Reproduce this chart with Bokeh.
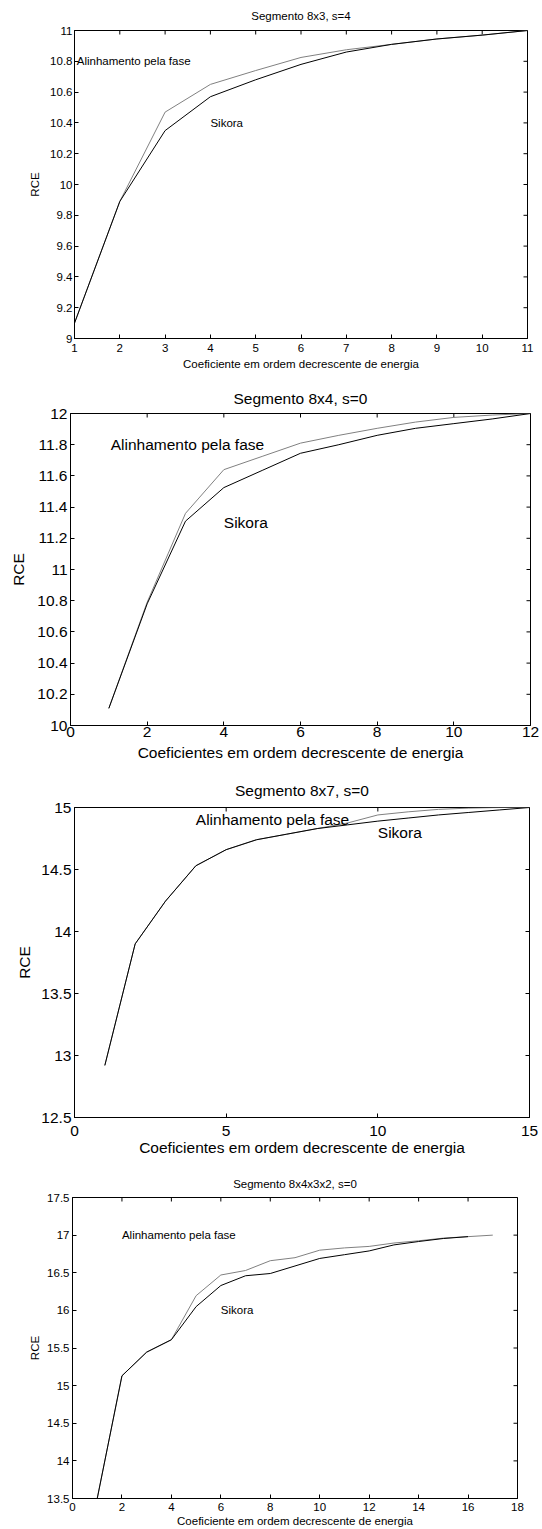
import math
from bokeh.plotting import figure
from bokeh.layouts import column
from bokeh.models import FixedTicker, Range1d, Label
from bokeh.embed import file_html
from bokeh.resources import INLINE

FONT = "Liberation Sans"
GREY = "#808080"

# ---------------- data ----------------
# Panel 1
p1_title = "Segmento 8x3, s=4"
p1_xlabel = "Coeficiente em ordem decrescente de energia"
p1_x = [1, 2, 3, 4, 5, 6, 7, 8, 9, 10, 11]
p1_fase = [9.10, 9.89, 10.47, 10.65, 10.74, 10.825, 10.875, 10.91, 10.945, 10.97, 11.0]
p1_sikora = [9.10, 9.89, 10.35, 10.57, 10.68, 10.78, 10.86, 10.91, 10.945, 10.97, 11.0]
p1_xticks = [1, 2, 3, 4, 5, 6, 7, 8, 9, 10, 11]
p1_yticks = [9, 9.2, 9.4, 9.6, 9.8, 10, 10.2, 10.4, 10.6, 10.8, 11]
p1_ylabels = ["9", "9.2", "9.4", "9.6", "9.8", "10", "10.2", "10.4", "10.6", "10.8", "11"]
p1_notes = [("Alinhamento pela fase", 1.05, 10.8), ("Sikora", 4, 10.4)]

# Panel 2
p2_title = "Segmento 8x4, s=0"
p2_xlabel = "Coeficientes em ordem decrescente de energia"
p2_x = [1, 2, 3, 4, 5, 6, 7, 8, 9, 10, 11, 12]
p2_fase = [10.11, 10.79, 11.36, 11.64, 11.725, 11.81, 11.86, 11.905, 11.945, 11.975, 11.99, 12.0]
p2_sikora = [10.11, 10.78, 11.31, 11.525, 11.635, 11.745, 11.80, 11.86, 11.905, 11.935, 11.965, 12.0]
p2_xticks = [0, 2, 4, 6, 8, 10, 12]
p2_yticks = [10, 10.2, 10.4, 10.6, 10.8, 11, 11.2, 11.4, 11.6, 11.8, 12]
p2_ylabels = ["10", "10.2", "10.4", "10.6", "10.8", "11", "11.2", "11.4", "11.6", "11.8", "12"]
p2_notes = [("Alinhamento pela fase", 1.05, 11.8), ("Sikora", 4, 11.3)]

# Panel 3
p3_title = "Segmento 8x7, s=0"
p3_xlabel = "Coeficientes em ordem decrescente de energia"
p3_x = [1, 2, 3, 4, 5, 6, 7, 8, 9, 10, 11, 12, 13, 14, 15]
p3_fase = [12.92, 13.90, 14.245, 14.53, 14.66, 14.74, 14.785, 14.83, 14.875, 14.94, 14.965, 14.985, 14.995, 15.0, 15.0]
p3_sikora = [12.92, 13.90, 14.245, 14.53, 14.66, 14.74, 14.785, 14.83, 14.86, 14.89, 14.915, 14.94, 14.96, 14.98, 15.0]
p3_xticks = [0, 5, 10, 15]
p3_yticks = [12.5, 13, 13.5, 14, 14.5, 15]
p3_ylabels = ["12.5", "13", "13.5", "14", "14.5", "15"]
p3_notes = [("Alinhamento pela fase", 4, 14.9), ("Sikora", 10, 14.8)]

# Panel 4
p4_title = "Segmento 8x4x3x2, s=0"
p4_xlabel = "Coeficiente em ordem decrescente de energia"
p4_x_fase = [1, 2, 3, 4, 5, 6, 7, 8, 9, 10, 11, 12, 13, 14, 15, 16, 17]
p4_fase = [13.5, 15.13, 15.445, 15.61, 16.195, 16.47, 16.53, 16.66, 16.70, 16.80, 16.83, 16.85, 16.895, 16.925, 16.96, 16.98, 17.0]
p4_x_sikora = [1, 2, 3, 4, 5, 6, 7, 8, 9, 10, 11, 12, 13, 14, 15, 16]
p4_sikora = [13.5, 15.13, 15.445, 15.61, 16.05, 16.33, 16.46, 16.49, 16.59, 16.69, 16.74, 16.79, 16.87, 16.915, 16.955, 16.98]
p4_xticks = [0, 2, 4, 6, 8, 10, 12, 14, 16, 18]
p4_yticks = [13.5, 14, 14.5, 15, 15.5, 16, 16.5, 17, 17.5]
p4_ylabels = ["13.5", "14", "14.5", "15", "15.5", "16", "16.5", "17", "17.5"]
p4_notes = [("Alinhamento pela fase", 2, 17.0), ("Sikora", 6, 16.0)]


def make_panel(title, xlabel, x_f, y_f, x_s, y_s, xr, yr, xticks, yticks, ylabels,
               notes, fs, height, b_left, b_right, b_top, b_bottom,
               x_tick_so, x_lab_so, y_tick_so, y_lab_so, title_so):
    p = figure(width=542, height=height, x_range=Range1d(*xr), y_range=Range1d(*yr),
               output_backend="svg", toolbar_location=None,
               min_border_left=b_left, min_border_right=b_right,
               min_border_top=b_top, min_border_bottom=b_bottom)
    p.frame_align = False
    p.background_fill_color = "white"
    p.border_fill_color = "white"
    p.outline_line_color = "black"
    p.outline_line_width = 1
    p.xgrid.grid_line_color = None
    p.ygrid.grid_line_color = None

    p.title.text = title
    p.title.align = "center"
    p.title.vertical_align = "top"
    p.title.text_font = FONT
    p.title.text_font_style = "normal"
    p.title.text_font_size = fs
    p.title.text_color = "black"
    p.title.standoff = title_so

    for ax in (p.xaxis[0], p.yaxis[0]):
        ax.major_tick_in = 4
        ax.major_tick_out = 0
        ax.minor_tick_line_color = None
        ax.axis_line_color = "black"
        ax.major_tick_line_color = "black"
        ax.major_label_text_font = FONT
        ax.major_label_text_font_size = fs
        ax.major_label_text_color = "black"
        ax.axis_label_text_font = FONT
        ax.axis_label_text_font_size = fs
        ax.axis_label_text_font_style = "normal"
        ax.axis_label_text_color = "black"

    p.xaxis[0].ticker = FixedTicker(ticks=xticks)
    p.xaxis[0].major_label_overrides = {t: str(t) for t in xticks}
    p.xaxis[0].axis_label = xlabel
    p.xaxis[0].major_label_standoff = x_tick_so
    p.xaxis[0].axis_label_standoff = x_lab_so

    p.yaxis[0].ticker = FixedTicker(ticks=yticks)
    p.yaxis[0].major_label_overrides = dict(zip(yticks, ylabels))
    p.yaxis[0].axis_label = "RCE"
    p.yaxis[0].major_label_standoff = y_tick_so
    p.yaxis[0].axis_label_standoff = y_lab_so

    # inward ticks on the top and right edges (clipped to the frame)
    p.scatter(xticks, [yr[1]] * len(xticks), marker="dash", angle=math.pi / 2,
              size=8, line_color="black", line_width=1)
    p.scatter([xr[1]] * len(yticks), yticks, marker="dash",
              size=8, line_color="black", line_width=1)

    p.line(x_f, y_f, line_color=GREY, line_width=1)
    p.line(x_s, y_s, line_color="black", line_width=1)

    for txt, tx, ty in notes:
        p.add_layout(Label(x=tx, y=ty, text=txt, text_font=FONT, text_font_size=fs,
                           text_align="left", text_baseline="middle", text_color="black"))
    return p


p1 = make_panel(p1_title, p1_xlabel, p1_x, p1_fase, p1_x, p1_sikora, (1, 11), (9, 11),
                p1_xticks, p1_yticks, p1_ylabels, p1_notes, "11.5px", 385, 74, 15, 30, 47,
                5, 3, 2, 6, 14)
p2 = make_panel(p2_title, p2_xlabel, p2_x, p2_fase, p2_x, p2_sikora, (0, 12), (10, 12),
                p2_xticks, p2_yticks, p2_ylabels, p2_notes, "15.5px", 385, 70, 12, 28, 45,
                1, 4, 3, 7, 9)
p3 = make_panel(p3_title, p3_xlabel, p3_x, p3_fase, p3_x, p3_sikora, (0, 15), (12.5, 15),
                p3_xticks, p3_yticks, p3_ylabels, p3_notes, "15.5px", 390, 74, 13, 37, 43,
                8, 0, 3, 5, 13)
p4 = make_panel(p4_title, p4_xlabel, p4_x_fase, p4_fase, p4_x_sikora, p4_sikora, (0, 18), (13.5, 17.5),
                p4_xticks, p4_yticks, p4_ylabels, p4_notes, "11.5px", 369, 72, 25, 37, 30,
                4, 1, 3, 3, 12)

layout = column(p1, p2, p3, p4, spacing=0)
open("out.html", "w").write(file_html(layout, INLINE))
